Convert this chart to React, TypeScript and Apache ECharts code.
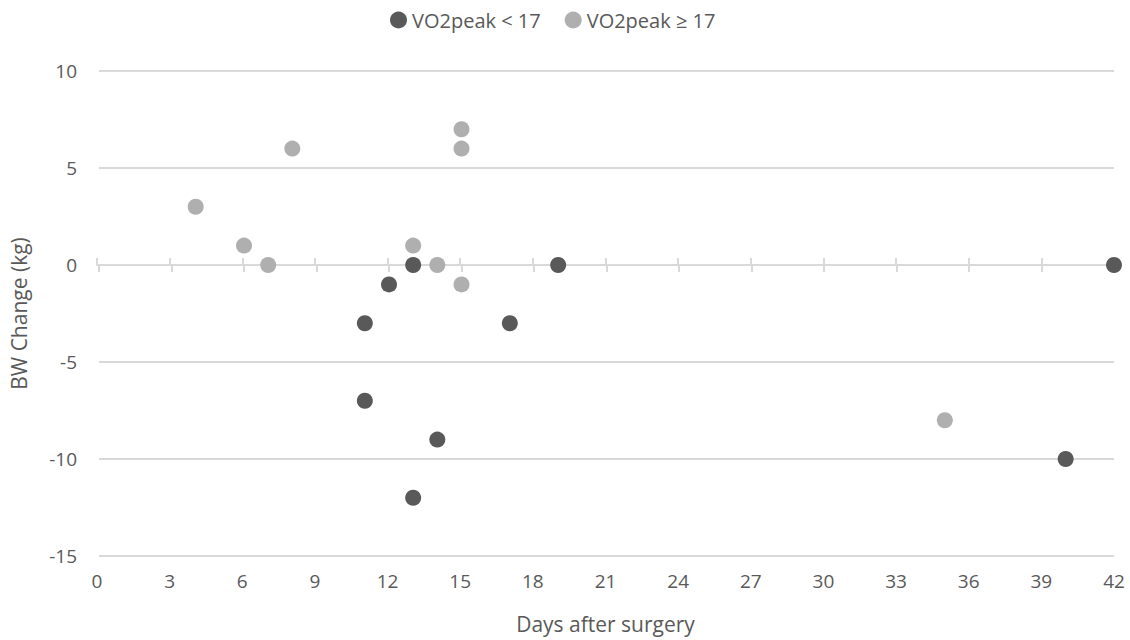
import React, { useEffect, useRef } from "react";
import * as echarts from "echarts";

const lowDays = [11, 11, 12, 13, 13, 14, 17, 19, 40, 42];
const lowChange = [-3, -7, -1, 0, -12, -9, -3, 0, -10, 0];
const highDays = [4, 6, 7, 8, 13, 14, 15, 15, 15, 35];
const highChange = [3, 1, 0, 6, 1, 0, 7, 6, -1, -8];
const seriesNames = ["VO2peak < 17", "VO2peak ≥ 17"];

const FONT = "'Open Sans', 'Noto Sans', sans-serif";
const TXT = "#595959";
const AXIS = "#d9d9d9";

export default function App() {
  const ref = useRef<HTMLDivElement>(null);
  useEffect(() => {
    const chart = echarts.init(ref.current!, null, { renderer: "svg" });
    const gridPos = { left: 97, right: 16, top: 71, bottom: 84 };
    const xBase = { type: "value", min: 0, max: 42, interval: 3 };
    const yBase = { type: "value", min: -15, max: 10, interval: 5 };
    chart.setOption({
      animation: false,
      textStyle: { fontFamily: FONT },
      legend: {
        top: 5,
        left: 385,
        itemWidth: 17,
        itemHeight: 17,
        itemGap: 24,
        textStyle: { fontFamily: FONT, fontSize: 20, color: TXT },
        data: [
          { name: seriesNames[0], icon: "circle" },
          { name: seriesNames[1], icon: "circle" },
        ],
      },
      grid: [gridPos, gridPos, gridPos],
      xAxis: [
        {
          ...xBase,
          gridIndex: 0,
          position: "bottom",
          axisLine: { show: true, onZero: true, lineStyle: { color: AXIS, width: 2 } },
          axisTick: { show: true, length: 7, lineStyle: { color: AXIS, width: 2 } },
          axisLabel: { show: false },
          splitLine: { show: false },
        },
        {
          ...xBase,
          gridIndex: 1,
          position: "top",
          axisLine: { show: true, onZero: true, lineStyle: { color: AXIS, width: 2 } },
          axisTick: { show: true, length: 7, lineStyle: { color: AXIS, width: 2 } },
          axisLabel: { show: false },
          splitLine: { show: false },
        },
        {
          ...xBase,
          gridIndex: 2,
          position: "bottom",
          axisLine: { show: false, onZero: false },
          axisTick: { show: false },
          axisLabel: { show: true, color: TXT, fontSize: 19, fontFamily: FONT, margin: 15 },
          splitLine: { show: false },
          name: "Days after surgery",
          nameLocation: "middle",
          nameGap: 57,
          nameTextStyle: { color: TXT, fontSize: 21, fontFamily: FONT },
        },
      ],
      yAxis: [
        {
          ...yBase,
          gridIndex: 0,
          axisLine: { show: false },
          axisTick: { show: false },
          axisLabel: { color: TXT, fontSize: 19, fontFamily: FONT, margin: 22 },
          splitLine: { show: true, lineStyle: { color: AXIS, width: 2 } },
          name: "BW Change (kg)",
          nameLocation: "middle",
          nameGap: 70,
          nameTextStyle: { color: TXT, fontSize: 21, fontFamily: FONT },
        },
        { ...yBase, gridIndex: 1, show: false },
        { ...yBase, gridIndex: 2, show: false },
      ],
      series: [
        {
          name: seriesNames[0],
          type: "scatter",
          xAxisIndex: 0,
          yAxisIndex: 0,
          symbolSize: 16,
          itemStyle: { color: "#595959", opacity: 1 },
          data: lowDays.map((d, i) => [d, lowChange[i]]),
          z: 3,
        },
        {
          name: seriesNames[1],
          type: "scatter",
          xAxisIndex: 0,
          yAxisIndex: 0,
          symbolSize: 16,
          itemStyle: { color: "#afafaf", opacity: 1 },
          data: highDays.map((d, i) => [d, highChange[i]]),
          z: 2,
        },
      ],
    });
    return () => chart.dispose();
  }, []);
  return <div ref={ref} style={{ width: 1130, height: 640, position: "absolute", left: 0, top: 0 }} />;
}
